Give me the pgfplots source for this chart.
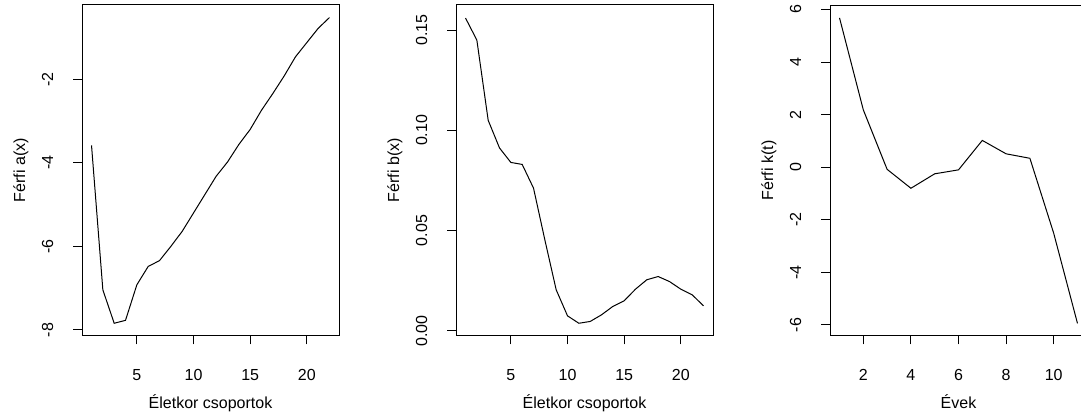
\documentclass[border=0pt]{standalone}
\usepackage{fontspec}
\setmainfont{Liberation Sans}
\usepackage{pgfplots}
\pgfplotsset{compat=1.18}

\pgfplotstableread{
x y
1 -3.58
2 -7.04
3 -7.84
4 -7.77
5 -6.92
6 -6.48
7 -6.34
8 -6.00
9 -5.64
10 -5.20
11 -4.76
12 -4.32
13 -3.98
14 -3.56
15 -3.20
16 -2.74
17 -2.34
18 -1.92
19 -1.46
20 -1.12
21 -0.78
22 -0.52
}\tablea

\pgfplotstableread{
x y
1 0.156
2 0.145
3 0.105
4 0.0912
5 0.0840
6 0.0830
7 0.0712
8 0.0454
9 0.0205
10 0.0075
11 0.0038
12 0.0047
13 0.0080
14 0.0122
15 0.0150
16 0.0208
17 0.0255
18 0.0271
19 0.0246
20 0.0208
21 0.0180
22 0.0125
}\tableb

\pgfplotstableread{
x y
1 5.68
2 2.18
3 -0.08
4 -0.80
5 -0.25
6 -0.10
7 1.02
8 0.51
9 0.34
10 -2.51
11 -5.94
}\tablek

\pgfplotsset{
  rstyle/.style={
    scale only axis,
    width=192.75pt, height=247.875pt,
    anchor=south west,
    axis line style={black, line width=0.75pt},
    every tick/.style={black, line width=0.75pt},
    tick align=outside,
    xtick pos=bottom, ytick pos=left,
    major tick length=6.75pt,
    font=\fontsize{12pt}{14pt}\selectfont,
    /pgf/number format/assume math mode=true,
    every x tick label/.style={anchor=base, yshift=-27pt},
    every y tick label/.style={xshift=-15pt, rotate=90, anchor=base},
    every axis x label/.style={at={(axis description cs:0.5,0)}, anchor=base, yshift=-54.6pt},
    every axis y label/.style={at={(axis description cs:0,0.5)}, xshift=-42.75pt, rotate=90, anchor=base},
    clip=false,
  },
  rline/.style={black, line width=0.75pt, no marks},
}

\begin{document}
\begin{tikzpicture}
\begin{axis}[rstyle, at={(61.5pt,61.125pt)},
  xmin=0.16, xmax=22.84, ymin=-8.133, ymax=-0.22,
  xtick={5,10,15,20}, ytick={-8,-6,-4,-2},
  xlabel={Életkor csoportok}, ylabel={Férfi a(x)}]
\addplot[rline] table[x=x,y=y] {\tablea};
\end{axis}
\begin{axis}[rstyle, at={(342pt,61.125pt)},
  xmin=0.16, xmax=22.84, ymin=-0.0023, ymax=0.1625,
  xtick={5,10,15,20}, ytick={0,0.05,0.10,0.15},
  yticklabel style={/pgf/number format/.cd, fixed, fixed zerofill, precision=2},
  xlabel={Életkor csoportok}, ylabel={Férfi b(x)}]
\addplot[rline] table[x=x,y=y] {\tableb};
\end{axis}
\begin{axis}[rstyle, at={(622.5pt,61.125pt)},
  xmin=0.6, xmax=11.4, ymin=-6.4, ymax=6.17,
  xtick={2,4,6,8,10}, ytick={-6,-4,-2,0,2,4,6},
  xlabel={Évek}, ylabel={Férfi k(t)}]
\addplot[rline] table[x=x,y=y] {\tablek};
\end{axis}
\pgfresetboundingbox
\useasboundingbox (0,0) rectangle (810.75pt,312.75pt);
\end{tikzpicture}
\end{document}
